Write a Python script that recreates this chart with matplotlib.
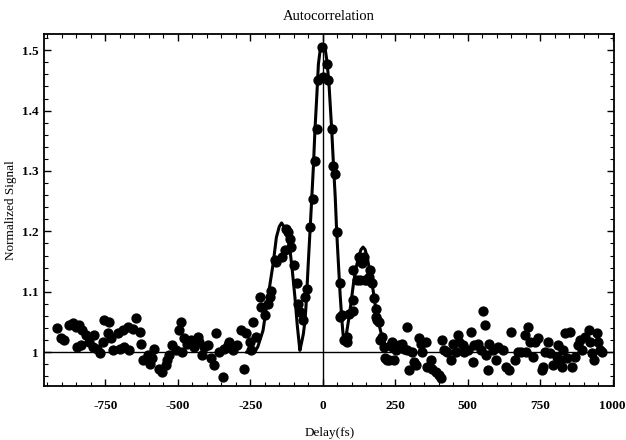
import matplotlib.pyplot as plt
from matplotlib.ticker import MultipleLocator
import numpy as np

plt.rcParams['font.family'] = ['Liberation Serif', 'DejaVu Serif']
plt.rcParams['axes.unicode_minus'] = False

# measured delay (fs) and normalized signal
delay = [
    -916, -904, -892, -875, -861, -852, -840, -829, -846, -835, -817, -806, -788, -794, -777,
    -769, -759, -756, -736, -742, -730, -725, -707, -701, -690, -684, -673, -669, -655, -644,
    -632, -626, -620, -603, -597,
    -588, -582, -565, -553, -542, -536, -530, -519, -507, -490, -495, -484, -478, -467, -455,
    -443, -432, -426, -415, -409, -397, -385, -374, -368, -357, -345, -339, -328, -322, -310,
    -296, -281, -270, -264, -252, -247, -241, -229,
    -218, -212, -200, -189, -183, -177, -166, -160, -142, -131, -127, -119, -114, -108, -99,
    -90, -85, -79, -67, -61, -56, -44, -33, -27, -21, -15, -3, 2, 14, 19, 31, 35, 43, 49, 60,
    66, 72, 83, 89, 106, 106, 118, 124, 135, 141, 147, 158, 164, 170, 176, 182, 188, 199, 210, 222,
    60, 83, 106, 130, 153, 193, 205, 216,
    185, 228, 234, 240, 245, 251, 262, 274, 280, 292, 292, 297, 309, 315, 320, 332, 338, 344,
    355, 361, 373, 378, 390, 401, 407, 413, 419, 430, 442, 448, 459, 465, 471, 483, 488, 500,
    511, 517, 523, 535, 546, 552, 558, 564, 569, 575, 587,
    598, 604, 621, 633, 644, 650, 662, 673, 685, 697, 702, 708, 714, 726, 731, 743, 755, 760,
    766, 778, 784, 795, 807, 813, 818, 824, 830, 836, 841, 853, 859, 870, 882, 888, 893, 905,
    917, 922, 928, 934, 945, 951, 957, 962,
]
signal = [
    1.040, 1.023, 1.021, 1.045, 1.048, 1.042, 1.045, 1.036, 1.009, 1.012, 1.028, 1.017, 1.028, 1.009, 1.006,
    0.999, 1.017, 1.054, 1.050, 1.031, 1.023, 1.003, 1.031, 1.006, 1.036, 1.009, 1.042, 1.003, 1.039, 1.056,
    1.034, 1.014, 0.987, 0.995, 0.981,
    0.990, 1.006, 0.973, 0.967, 0.979, 0.987, 0.995, 1.012, 1.003, 1.050, 1.037, 1.000, 1.023, 1.014, 1.020,
    1.009, 1.025, 1.017, 0.995, 1.009, 1.012, 0.990, 0.979, 1.031, 1.000, 0.959, 1.006, 1.012, 1.017, 1.003,
    1.012, 1.036, 0.973, 1.031, 1.017, 1.003, 1.050, 1.025,
    1.091, 1.075, 1.061, 1.080, 1.091, 1.102, 1.152, 1.149, 1.158, 1.169, 1.204, 1.199, 1.188, 1.174, 1.144,
    1.114, 1.080, 1.067, 1.053, 1.091, 1.105, 1.207, 1.254, 1.317, 1.370, 1.450, 1.505, 1.455, 1.477, 1.450,
    1.370, 1.309, 1.295, 1.199, 1.114,
    1.061, 1.020, 1.017, 1.064, 1.069, 1.136, 1.119, 1.158, 1.147, 1.158, 1.119, 1.124, 1.136, 1.114, 1.089,
    1.072, 1.053, 1.020, 1.009, 0.987,
    1.058, 1.025, 1.086, 1.120, 1.120, 1.050, 1.025, 0.990,
    1.058, 0.987, 1.012, 1.017, 0.987, 1.003, 1.012, 1.014, 1.006, 1.042, 1.003, 0.970, 1.000, 0.984, 0.979,
    1.023, 1.014, 1.000, 1.017, 0.976, 0.987, 0.973, 0.967, 0.962, 0.957, 1.020, 1.003, 1.000, 0.987, 1.014,
    1.000, 1.028, 1.017, 1.012, 1.000, 1.003, 1.034, 0.984, 1.012, 1.014, 1.003, 1.069, 1.045, 0.995, 0.970,
    1.014, 1.003,
    0.987, 1.009, 1.003, 0.976, 0.970, 1.034, 0.987, 1.000, 1.000, 1.028, 1.000, 1.042, 1.017, 0.992, 1.017,
    1.023, 0.970, 0.976, 1.000, 1.017, 0.998, 0.979, 0.992, 1.012, 0.987, 0.976, 1.003, 1.031, 0.990, 1.034,
    0.976, 0.992, 1.012, 1.020, 1.003, 1.025, 1.036, 1.017, 0.998, 0.987, 1.031, 1.017, 1.003, 1.000,
]

# fitted curve
fit_delay = [-262, -235, -224, -206, -189, -171, -160, -150, -142, -134, -125, -114, -105, -96,
             -88, -79, -73, -67, -61, -56, -50, -44, -38, -32, -27, -21, -15, -9, 0, 9, 15, 22,
             31, 37, 43, 48, 54, 60, 66, 70, 74, 80, 89, 97, 106, 115, 124, 132, 139, 146, 153,
             162, 170, 176, 182, 190, 199, 207, 216, 225, 234, 250]
fit_signal = [1.0, 1.0, 1.009, 1.036, 1.091, 1.147, 1.19, 1.208, 1.214, 1.208, 1.195, 1.174, 1.135,
              1.091, 1.045, 1.003, 1.016, 1.03, 1.053, 1.09, 1.147, 1.2, 1.254, 1.31, 1.367, 1.42,
              1.477, 1.50, 1.507, 1.50, 1.48, 1.44, 1.367, 1.31, 1.257, 1.2, 1.147, 1.095, 1.053,
              1.03, 1.014, 1.025, 1.053, 1.08, 1.114, 1.14, 1.158, 1.17, 1.174, 1.17, 1.158, 1.135,
              1.114, 1.095, 1.075, 1.055, 1.036, 1.022, 1.012, 1.006, 1.003, 1.0]

fig = plt.figure(figsize=(6.26, 4.40), dpi=100)
ax = fig.add_axes([0.071, 0.122, 0.910, 0.801])

# axes through the origin (0, 1)
ax.axhline(1, color='black', linewidth=1.0, zorder=1)
ax.axvline(0, color='black', linewidth=1.0, zorder=1)

ax.plot(fit_delay, fit_signal, color='black', linewidth=2.2, zorder=2)
ax.plot(delay, signal, 'o', color='black', markersize=6.4, zorder=3)

ax.set_xlim(-960, 1005)
ax.set_ylim(0.9435, 1.527)

ax.xaxis.set_major_locator(MultipleLocator(250))
ax.xaxis.set_minor_locator(MultipleLocator(50))
ax.yaxis.set_major_locator(MultipleLocator(0.1))
ax.yaxis.set_minor_locator(MultipleLocator(0.02))
ax.set_yticks([1, 1.1, 1.2, 1.3, 1.4, 1.5])
ax.set_yticklabels(['1', '1.1', '1.2', '1.3', '1.4', '1.5'])

ax.tick_params(which='both', direction='in', top=True, right=True, labelsize=9.5)
ax.tick_params(which='major', length=5, width=1.0)
ax.tick_params(which='minor', length=3, width=0.8)
ax.tick_params(axis='x', pad=10)
ax.tick_params(axis='y', pad=4)
for lbl in ax.get_xticklabels() + ax.get_yticklabels():
    lbl.set_fontweight('bold')
for spine in ax.spines.values():
    spine.set_linewidth(1.3)

ax.set_xlabel('Delay(fs)', fontsize=9.5, labelpad=11)
ax.set_ylabel('Normalized Signal', fontsize=9.5, labelpad=4)
ax.set_title('Autocorrelation', fontsize=10.5, pad=10)

plt.savefig('out.png', dpi=100)
